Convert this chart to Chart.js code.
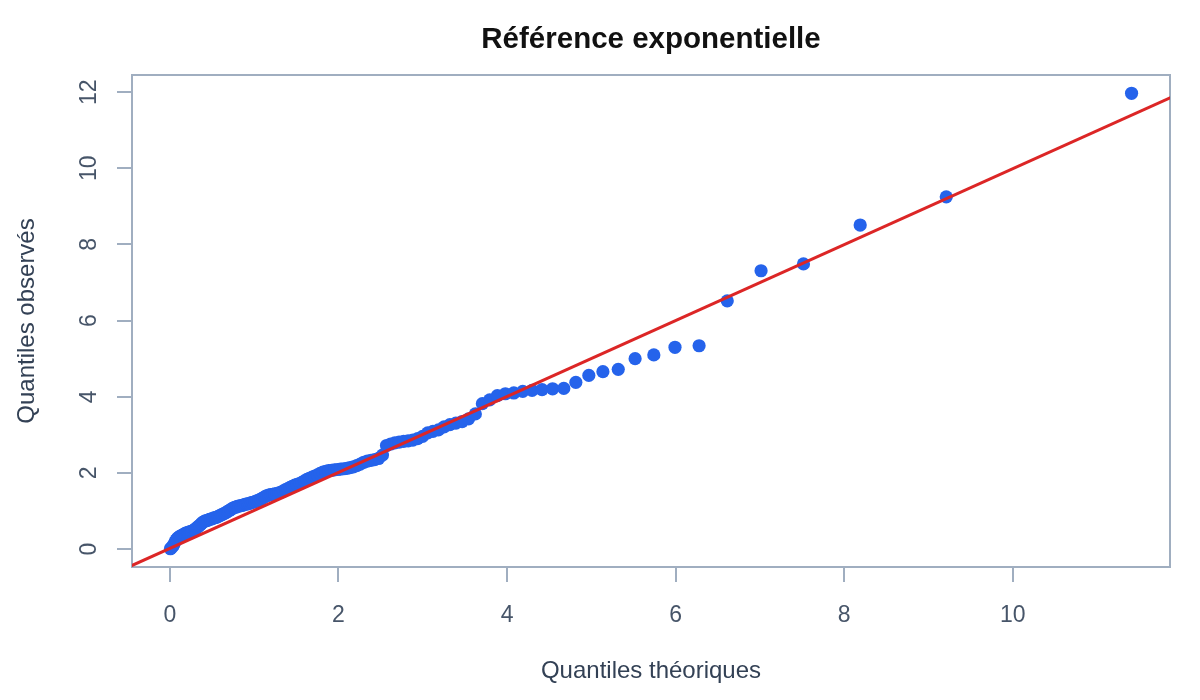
<!DOCTYPE html>
<html lang="fr">
<head>
  <meta charset="UTF-8" />
  <title>Référence exponentielle</title>
  <script src="https://cdn.jsdelivr.net/npm/chart.js"></script>
  <style>
    html, body { margin: 0; padding: 0; background: #ffffff; }
    #wrap { width: 1200px; height: 700px; position: relative; }
  </style>
</head>
<body>
  <div id="wrap"><canvas id="qq"></canvas></div>
<script>
  // quantiles theoriques (loi exponentielle) et quantiles observes, dans l'ordre
  const theoQuantiles = [
    0.007, 0.020, 0.034, 0.047, 0.061, 0.075, 0.089, 0.103, 0.117, 0.131,
    0.145, 0.160, 0.174, 0.189, 0.203, 0.218, 0.233, 0.248, 0.263, 0.279,
    0.294, 0.309, 0.325, 0.341, 0.357, 0.373, 0.389, 0.405, 0.421, 0.438,
    0.455, 0.471, 0.488, 0.506, 0.523, 0.540, 0.558, 0.575, 0.593, 0.611,
    0.629, 0.648, 0.666, 0.685, 0.704, 0.723, 0.742, 0.762, 0.781, 0.801,
    0.821, 0.841, 0.862, 0.882, 0.903, 0.924, 0.945, 0.967, 0.989, 1.011,
    1.033, 1.055, 1.078, 1.101, 1.124, 1.148, 1.172, 1.196, 1.220, 1.245,
    1.270, 1.295, 1.321, 1.347, 1.373, 1.400, 1.427, 1.454, 1.482, 1.510,
    1.539, 1.568, 1.597, 1.627, 1.657, 1.688, 1.719, 1.751, 1.783, 1.816,
    1.849, 1.883, 1.918, 1.953, 1.989, 2.025, 2.062, 2.100, 2.138, 2.177,
    2.217, 2.258, 2.300, 2.342, 2.386, 2.430, 2.476, 2.522, 2.570, 2.619,
    2.669, 2.720, 2.773, 2.827, 2.882, 2.939, 2.998, 3.059, 3.121, 3.186,
    3.253, 3.322, 3.393, 3.467, 3.544, 3.624, 3.707, 3.794, 3.885, 3.980,
    4.080, 4.186, 4.297, 4.415, 4.540, 4.673, 4.816, 4.970, 5.137, 5.319,
    5.519, 5.741, 5.992, 6.278, 6.612, 7.013, 7.516, 8.189, 9.210, 11.408
  ];
  const obsQuantiles = [
    0.01, 0.04, 0.07, 0.12, 0.19, 0.24, 0.28, 0.31, 0.33, 0.35,
    0.36, 0.38, 0.40, 0.42, 0.43, 0.44, 0.45, 0.46, 0.47, 0.49,
    0.51, 0.54, 0.57, 0.60, 0.63, 0.67, 0.70, 0.72, 0.74, 0.75,
    0.76, 0.78, 0.79, 0.80, 0.82, 0.83, 0.84, 0.86, 0.88, 0.90,
    0.92, 0.94, 0.96, 0.99, 1.01, 1.04, 1.07, 1.09, 1.10, 1.12,
    1.13, 1.14, 1.15, 1.17, 1.18, 1.19, 1.20, 1.22, 1.23, 1.25,
    1.27, 1.29, 1.31, 1.34, 1.37, 1.40, 1.42, 1.43, 1.44, 1.45,
    1.46, 1.48, 1.50, 1.53, 1.56, 1.59, 1.62, 1.65, 1.68, 1.70,
    1.72, 1.75, 1.79, 1.83, 1.86, 1.89, 1.92, 1.95, 1.99, 2.02,
    2.04, 2.06, 2.07, 2.08, 2.09, 2.10, 2.11, 2.12, 2.14, 2.16,
    2.19, 2.23, 2.28, 2.31, 2.33, 2.35, 2.38, 2.47, 2.72, 2.76,
    2.79, 2.81, 2.83, 2.84, 2.86, 2.90, 2.96, 3.05, 3.09, 3.13,
    3.21, 3.27, 3.31, 3.35, 3.42, 3.55, 3.82, 3.92, 4.03, 4.08,
    4.10, 4.14, 4.17, 4.19, 4.21, 4.22, 4.38, 4.56, 4.66, 4.72,
    5.00, 5.10, 5.30, 5.34, 6.52, 7.31, 7.49, 8.51, 9.25, 11.97
  ];
  // droite de reference (extremites, coupee par la zone du graphe)
  const refLineX = [-1, 13];
  const refLineY = [-0.98, 12.98];

  const xTicks = [0, 2, 4, 6, 8, 10];
  const yTicks = [0, 2, 4, 6, 8, 10, 12];

  const titre = 'Référence exponentielle';
  const titreX = 'Quantiles théoriques';
  const titreY = 'Quantiles observés';

  const police = '"Liberation Sans", Helvetica, Arial, sans-serif';
  const gris = '#a0aec0';
  const texte = '#475569';

  const points = theoQuantiles.map((x, i) => ({ x: x, y: obsQuantiles[i] }));
  const droite = refLineX.map((x, i) => ({ x: x, y: refLineY[i] }));

  // cadre + titre centre sur la zone du graphe
  const cadrePlugin = {
    id: 'cadre',
    beforeDatasetsDraw(chart) {
      const { ctx, chartArea: a } = chart;
      ctx.save();
      ctx.strokeStyle = gris;
      ctx.lineWidth = 2;
      ctx.strokeRect(a.left, a.top, a.right - a.left, a.bottom - a.top);
      ctx.restore();
    },
    afterDraw(chart) {
      const { ctx, chartArea: a } = chart;
      ctx.save();
      ctx.fillStyle = '#111111';
      ctx.font = 'bold 29.5px ' + police;
      ctx.textAlign = 'center';
      ctx.textBaseline = 'middle';
      ctx.fillText(titre, (a.left + a.right) / 2, 40);
      ctx.restore();
    }
  };

  new Chart(document.getElementById('qq'), {
    type: 'scatter',
    data: {
      datasets: [
        {
          type: 'line',
          data: droite,
          borderColor: '#dc2626',
          borderWidth: 3,
          pointRadius: 0,
          fill: false,
          order: 0
        },
        {
          data: points,
          backgroundColor: '#2563eb',
          borderColor: '#2563eb',
          pointRadius: 6.6,
          pointHoverRadius: 6.6,
          borderWidth: 0,
          order: 1
        }
      ]
    },
    options: {
      responsive: true,
      maintainAspectRatio: false,
      animation: false,
      layout: { padding: { top: 75, right: 30, left: 0, bottom: 0 } },
      plugins: {
        legend: { display: false },
        tooltip: { enabled: false }
      },
      scales: {
        x: {
          type: 'linear',
          min: -0.449,
          max: 11.864,
          afterBuildTicks: s => { s.ticks = xTicks.map(v => ({ value: v })); },
          afterFit: s => { s.height = 133; },
          grid: { drawOnChartArea: false, tickLength: 15, color: gris, lineWidth: 2 },
          border: { display: true, color: gris, width: 2 },
          ticks: { color: texte, font: { family: police, size: 23 }, padding: 20, autoSkip: false, maxRotation: 0 },
          title: { display: true, text: titreX, color: '#334155', font: { family: police, size: 24 }, padding: { top: 0, bottom: 14 } }
        },
        y: {
          type: 'linear',
          min: -0.47,
          max: 12.45,
          afterBuildTicks: s => { s.ticks = yTicks.map(v => ({ value: v })); },
          afterFit: s => { s.width = 132; },
          grid: { drawOnChartArea: false, tickLength: 15, color: gris, lineWidth: 2 },
          border: { display: true, color: gris, width: 2 },
          ticks: { color: texte, font: { family: police, size: 23 }, padding: 15, minRotation: 90, maxRotation: 90, crossAlign: 'center', autoSkip: false },
          title: { display: true, text: titreY, color: '#334155', font: { family: police, size: 24 }, padding: { top: 13, bottom: 0 } }
        }
      }
    },
    plugins: [cadrePlugin]
  });
</script>
</body>
</html>
